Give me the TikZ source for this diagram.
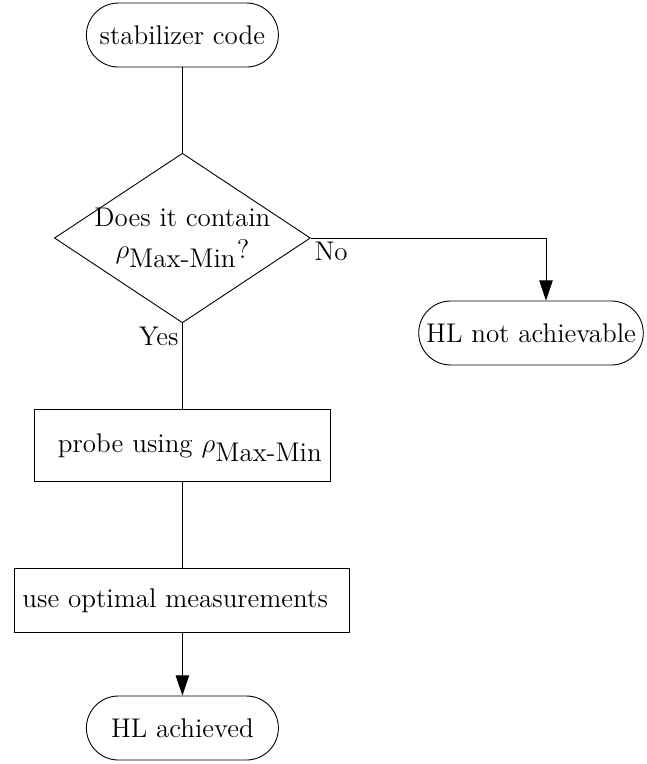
\documentclass[tikz,border=0pt]{standalone}
\usepackage{tikz}
\usetikzlibrary{arrows.meta,shapes.geometric,positioning}

\tikzset{
  startstop/.style={rectangle, rounded corners=0.5cm, draw=black, minimum width=3cm, minimum height=1cm, font=\large},
  decision/.style={diamond, aspect=1.5, draw=black, inner sep=-1pt, minimum width=4cm, minimum height=2.65cm, align=center, font=\large},
  process/.style={rectangle, draw=black, minimum height=1cm, font=\large},
  answer/.style={inner sep=1.5pt, font=\large},
  flowarrow/.style={-{Triangle[length=9pt,width=6pt]}}
}

\begin{document}
\begin{tikzpicture}[scale=1]
                \useasboundingbox (0,0) rectangle (10.094,-11.9375);

                \node[startstop] (start) at (2.85,-0.547) {stabilizer code};
                \node[decision] (dec) at (2.85,-3.719) {Does it contain\\ $\rho_{\mbox{Max-Min}}$?};
                \node[startstop] (notach) at (8.297,-5.203) {HL not achievable};
                \node[process, text width=4.39cm, align=right, text height=16pt, text depth=9.5pt] (probe) at (2.85,-6.961) {probe using $\rho_{\mbox{Max-Min}}$};
                \node[process, text width=5cm, align=left] (meas) at (2.85,-9.383) {use optimal measurements};
                \node[startstop] (stop) at (2.85,-11.375) {HL achieved};
                \coordinate (turn) at (8.531,-3.719);

                \node[answer, below right] (no) at (dec.east) {No};
                \node[answer, below left] (yes) at (dec.south) {Yes};

                \draw (start) -- (dec);
                \draw[flowarrow] (dec.east) -- (turn) -- (turn |- notach.north);
                \draw (dec) -- (probe);
                \draw (probe) -- (meas);
                % \draw[flowarrow] (meas) -- (stop);
                \draw[flowarrow] (meas.south) -- (stop.north);
\end{tikzpicture}
\end{document}
